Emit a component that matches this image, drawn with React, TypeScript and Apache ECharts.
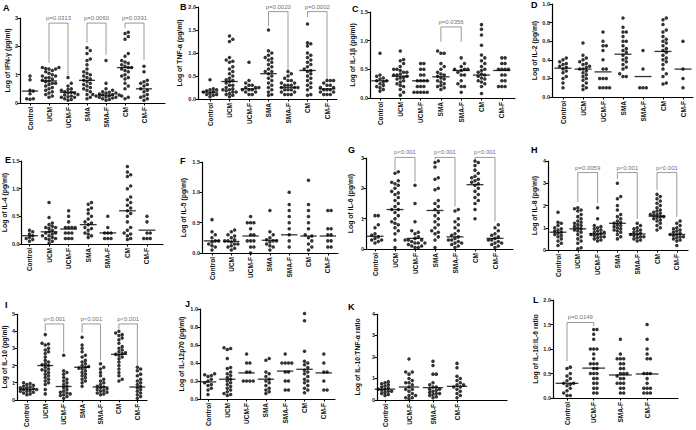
import React, { useEffect, useRef } from "react";
import * as echarts from "echarts";

const FONT = "Liberation Sans, Arial, sans-serif";

const CATS7 = ["Control", "UCM", "UCM-F", "SMA", "SMA-F", "CM", "CM-F"];
const CATS4 = ["Control", "UCM-F", "SMA-F", "CM-F"];

// A: IFN-γ
const ifnVals = [
  [0.95, 0.82, 0.45, 0.42, 0.33, 0.15, 0.13, 0.15],
  [1.25, 1.25, 1.22, 1.2, 1.2, 1.15, 1.1, 1.05, 1.0, 0.95, 0.95, 0.9, 0.88, 0.85, 0.8, 0.78, 0.75, 0.7, 0.7, 0.65, 0.6, 0.55, 0.5, 0.45, 0.4, 0.35, 0.3, 0.25, 0.2],
  [0.9, 0.7, 0.6, 0.5, 0.48, 0.45, 0.4, 0.38, 0.35, 0.3, 0.28, 0.25, 0.2, 0.2, 0.15, 0.12, 0.1, 0.35, 0.22],
  [1.95, 1.85, 1.75, 1.55, 1.5, 1.35, 1.2, 1.1, 1.05, 1.0, 0.95, 0.9, 0.85, 0.8, 0.75, 0.7, 0.65, 0.6, 0.55, 0.5, 0.45, 0.4, 0.3, 0.2, 0.15],
  [1.5, 0.7, 0.5, 0.45, 0.4, 0.38, 0.35, 0.35, 0.32, 0.3, 0.3, 0.28, 0.28, 0.25, 0.25, 0.22, 0.2, 0.2, 0.18, 0.15, 0.12, 0.1],
  [2.5, 2.45, 2.35, 2.25, 1.75, 1.65, 1.5, 1.45, 1.4, 1.35, 1.3, 1.25, 1.25, 1.2, 1.15, 1.1, 1.0, 0.95, 0.9, 0.85, 0.7, 0.6, 0.5, 0.25, 0.2, 0.15],
  [1.3, 1.1, 0.8, 0.75, 0.7, 0.65, 0.6, 0.5, 0.45, 0.4, 0.3, 0.25, 0.2, 0.15, 0.1],
];
const ifnMed = [0.42, 0.78, 0.38, 0.8, 0.28, 1.25, 0.5];
const ifnBrk = [
  [1, 2, 1.42, 0.98, 2.82, "p=0.0313"],
  [3, 4, 2.13, 1.7, 2.82, "p=0.0060"],
  [5, 6, 2.65, 1.52, 2.82, "p=0.0391"],
];

// B: TNF-α
const tnfVals = [
  [0.42, 0.22, 0.2, 0.18, 0.15, 0.15, 0.12, 0.1, 0.08, 0.05, 0.2, 0.1],
  [1.37, 1.3, 1.25, 0.9, 0.85, 0.82, 0.8, 0.7, 0.65, 0.6, 0.55, 0.5, 0.45, 0.42, 0.4, 0.38, 0.35, 0.3, 0.3, 0.25, 0.22, 0.2, 0.18, 0.15, 0.12, 0.1, 0.08, 0.05, 0.2, 0.15],
  [0.8, 0.4, 0.35, 0.3, 0.3, 0.25, 0.25, 0.2, 0.2, 0.2, 0.15, 0.15, 0.1, 0.1, 0.25],
  [1.5, 1.05, 1.0, 0.95, 0.9, 0.88, 0.85, 0.8, 0.75, 0.7, 0.65, 0.6, 0.55, 0.5, 0.45, 0.4, 0.35, 0.3, 0.25, 0.2, 0.15, 0.1, 0.08, 0.6],
  [0.6, 0.55, 0.5, 0.45, 0.4, 0.4, 0.35, 0.35, 0.3, 0.3, 0.3, 0.25, 0.25, 0.25, 0.2, 0.2, 0.2, 0.15, 0.15, 0.1, 0.1, 0.1],
  [1.63, 1.22, 1.2, 1.15, 1.0, 0.95, 0.9, 0.85, 0.8, 0.75, 0.7, 0.65, 0.62, 0.6, 0.55, 0.5, 0.45, 0.4, 0.35, 0.3, 0.25, 0.2, 0.1, 0.08],
  [0.4, 0.4, 0.4, 0.35, 0.3, 0.3, 0.25, 0.25, 0.2, 0.2, 0.2, 0.15, 0.15, 0.1, 0.1, 0.1],
];
const tnfMed = [0.15, 0.38, 0.22, 0.55, 0.25, 0.62, 0.22];
const tnfBrk = [
  [3, 4, 1.58, 0.63, 1.9, "p=0.0020"],
  [5, 6, 1.78, 0.41, 1.9, "p=0.0002"],
];

// C: IL-1β
const il1Vals = [
  [0.78, 0.4, 0.38, 0.35, 0.33, 0.3, 0.3, 0.28, 0.25, 0.22, 0.2, 0.18, 0.15, 0.12],
  [0.82, 0.67, 0.65, 0.6, 0.55, 0.5, 0.5, 0.48, 0.45, 0.42, 0.4, 0.4, 0.38, 0.35, 0.33, 0.3, 0.28, 0.25, 0.22, 0.2, 0.15, 0.1, 0.05, 0.45, 0.36],
  [0.6, 0.6, 0.5, 0.5, 0.4, 0.4, 0.3, 0.3, 0.3, 0.3, 0.2, 0.2, 0.2, 0.1, 0.1, 0.1, 0.1, 0.1],
  [0.82, 0.78, 0.78, 0.6, 0.55, 0.5, 0.45, 0.42, 0.4, 0.38, 0.35, 0.33, 0.3, 0.28, 0.25, 0.22, 0.2, 0.18, 0.15],
  [0.7, 0.6, 0.55, 0.5, 0.5, 0.5, 0.48, 0.45, 0.4, 0.4, 0.3, 0.25, 0.2, 0.2, 0.1],
  [1.28, 1.2, 1.1, 0.92, 0.75, 0.7, 0.65, 0.6, 0.55, 0.5, 0.48, 0.45, 0.42, 0.4, 0.38, 0.35, 0.33, 0.3, 0.28, 0.25, 0.2, 0.08],
  [0.7, 0.7, 0.6, 0.6, 0.5, 0.5, 0.5, 0.5, 0.4, 0.4, 0.3, 0.3, 0.2, 0.2, 0.2],
];
const il1Med = [0.3, 0.38, 0.3, 0.37, 0.48, 0.4, 0.48];
const il1Brk = [[3, 4, 0.98, 0.98, 1.24, "p=0.0356"]];

// D: IL-2
const il2Vals = [
  [0.42, 0.4, 0.38, 0.36, 0.35, 0.33, 0.32, 0.3, 0.28, 0.26, 0.22, 0.2, 0.15, 0.1],
  [0.58, 0.45, 0.42, 0.4, 0.38, 0.36, 0.35, 0.33, 0.32, 0.3, 0.3, 0.28, 0.26, 0.24, 0.22, 0.2, 0.18, 0.15, 0.12, 0.1, 0.08],
  [0.7, 0.6, 0.55, 0.55, 0.5, 0.4, 0.3, 0.3, 0.2, 0.2, 0.2, 0.1, 0.1, 0.1, 0.1],
  [0.85, 0.75, 0.7, 0.7, 0.65, 0.6, 0.6, 0.55, 0.52, 0.5, 0.48, 0.45, 0.42, 0.4, 0.38, 0.35, 0.32, 0.3, 0.25, 0.22, 0.22],
  [0.5, 0.3, 0.1, 0.1, 0.1],
  [0.85, 0.83, 0.78, 0.72, 0.7, 0.65, 0.62, 0.6, 0.58, 0.55, 0.52, 0.5, 0.48, 0.45, 0.42, 0.4, 0.38, 0.35, 0.3, 0.25, 0.22, 0.15, 0.14],
  [0.6, 0.3, 0.2, 0.1],
];
const il2Med = [0.31, 0.3, 0.27, 0.46, 0.22, 0.49, 0.3];

// E: IL-4
const il4Vals = [
  [0.25, 0.22, 0.18, 0.15, 0.12, 0.1, 0.08, 0.05],
  [0.75, 0.48, 0.38, 0.35, 0.32, 0.3, 0.28, 0.25, 0.22, 0.2, 0.18, 0.15, 0.12, 0.1, 0.08, 0.05, 0.02, 0.3, 0.2, 0.15, 0.1],
  [0.6, 0.5, 0.4, 0.3, 0.3, 0.3, 0.3, 0.2, 0.2, 0.2, 0.1, 0.1, 0.1],
  [0.75, 0.72, 0.65, 0.62, 0.55, 0.5, 0.45, 0.4, 0.38, 0.35, 0.3, 0.28, 0.25, 0.2, 0.18, 0.15, 0.12],
  [0.5, 0.3, 0.2, 0.2, 0.2, 0.1, 0.1, 0.1],
  [1.4, 1.3, 1.25, 1.22, 1.05, 1.0, 0.85, 0.8, 0.75, 0.7, 0.65, 0.6, 0.55, 0.5, 0.4, 0.3, 0.25, 0.2, 0.18, 0.15, 0.1, 0.08],
  [0.5, 0.4, 0.2, 0.2, 0.1, 0.1, 0.1],
];
const il4Med = [0.15, 0.22, 0.27, 0.35, 0.2, 0.6, 0.25];

// F: IL-5
const il5Vals = [
  [0.55, 0.35, 0.3, 0.25, 0.2, 0.2, 0.18, 0.15, 0.12, 0.1, 0.05],
  [0.38, 0.35, 0.3, 0.28, 0.25, 0.22, 0.2, 0.2, 0.18, 0.15, 0.15, 0.12, 0.1, 0.08, 0.05],
  [0.6, 0.5, 0.5, 0.5, 0.4, 0.3, 0.3, 0.2, 0.2, 0.2, 0.1, 0.1, 0.0],
  [0.7, 0.35, 0.3, 0.25, 0.22, 0.2, 0.2, 0.18, 0.15, 0.12, 0.1, 0.05],
  [1.0, 0.8, 0.7, 0.6, 0.5, 0.4, 0.3, 0.2, 0.1],
  [1.2, 0.8, 0.7, 0.6, 0.5, 0.4, 0.3, 0.28, 0.25, 0.2, 0.15, 0.1, 0.05],
  [0.7, 0.7, 0.4, 0.4, 0.3, 0.3, 0.2, 0.2, 0.1, 0.1],
];
const il5Med = [0.2, 0.19, 0.28, 0.21, 0.3, 0.28, 0.28];

// G: IL-6
const il6Vals = [
  [1.1, 1.1, 0.8, 0.7, 0.5, 0.45, 0.4, 0.35, 0.3, 0.3, 0.25, 0.2],
  [2.55, 2.5, 2.25, 2.2, 2.15, 2.1, 2.0, 1.9, 1.8, 1.7, 1.6, 1.5, 1.4, 1.3, 1.2, 1.1, 1.0, 0.9, 0.8, 0.7, 0.6, 0.5, 0.3, 0.05, 1.85, 1.3, 0.85],
  [2.1, 1.5, 0.9, 0.6, 0.55, 0.5, 0.4, 0.35, 0.3, 0.3, 0.25, 0.2, 0.2, 0.15, 0.1, 0.1, 0.05, 0.05, 0.2, 0.3],
  [2.9, 2.85, 2.7, 2.35, 2.3, 2.0, 1.95, 1.6, 1.5, 1.4, 1.3, 1.2, 1.1, 1.0, 0.9, 0.8, 0.7, 0.6, 0.55, 0.5, 0.4, 0.3, 0.05],
  [1.3, 1.25, 1.0, 0.9, 0.8, 0.7, 0.6, 0.5, 0.45, 0.4, 0.35, 0.3, 0.25, 0.2, 0.15, 0.1, 0.05, 0.3, 0.2],
  [2.9, 2.85, 2.75, 2.6, 2.5, 2.4, 2.35, 2.3, 2.25, 2.2, 2.15, 2.1, 2.0, 1.9, 1.8, 1.7, 1.6, 1.5, 1.3, 1.0],
  [0.8, 0.7, 0.6, 0.5, 0.45, 0.4, 0.35, 0.3, 0.25, 0.2, 0.15, 0.1, 0.05, 0.3, 0.2],
];
const il6Med = [0.42, 1.3, 0.35, 1.27, 0.4, 2.12, 0.35];
const il6Brk = [
  [1, 2, 2.6, 2.22, 3.02, "p<0.001"],
  [3, 4, 2.96, 1.4, 3.02, "p<0.001"],
  [5, 6, 2.94, 0.9, 3.02, "p<0.001"],
];

// H: IL-8
const il8Vals = [
  [1.7, 1.25, 1.2, 1.1, 1.0, 0.95, 0.9, 0.85, 0.8, 0.75, 0.7, 0.65, 0.6, 0.5, 0.4, 0.3, 0.2],
  [1.9, 1.85, 1.8, 1.75, 1.6, 1.5, 1.4, 1.3, 1.2, 1.1, 1.05, 1.0, 0.95, 0.9, 0.85, 0.8, 0.7, 0.6, 0.5, 0.4, 0.3, 0.1, 0.05, 1.25, 1.15],
  [1.9, 1.4, 1.1, 1.05, 1.0, 0.95, 0.9, 0.85, 0.8, 0.75, 0.7, 0.65, 0.6, 0.55, 0.5, 0.45, 0.4, 0.7, 0.8, 0.6],
  [3.0, 2.4, 2.3, 2.0, 1.8, 1.6, 1.5, 1.4, 1.3, 1.25, 1.2, 1.15, 1.1, 1.05, 1.0, 0.95, 0.9, 0.85, 0.8, 0.7, 0.6, 0.5],
  [1.2, 1.1, 1.0, 0.95, 0.9, 0.85, 0.8, 0.75, 0.7, 0.65, 0.6, 0.55, 0.5, 0.45, 0.4, 0.7, 0.6],
  [2.5, 2.4, 2.3, 2.2, 2.1, 2.0, 1.9, 1.8, 1.75, 1.7, 1.65, 1.6, 1.55, 1.5, 1.45, 1.4, 1.35, 1.3, 1.2, 1.1, 1.0, 0.9, 1.5, 1.6],
  [1.3, 1.2, 1.1, 1.0, 0.95, 0.9, 0.85, 0.8, 0.75, 0.7, 0.65, 0.6, 0.55, 0.5, 0.45, 0.4, 0.2, 0.7, 0.6],
];
const il8Med = [0.8, 0.95, 0.72, 1.2, 0.72, 1.52, 0.7];
const il8Brk = [
  [1, 2, 2.16, 2.1, 3.48, "p=0.0059"],
  [3, 4, 3.2, 1.4, 3.48, "p<0.001"],
  [5, 6, 2.7, 1.5, 3.48, "p<0.001"],
];

// I: IL-10
const il10Vals = [
  [1.0, 0.95, 0.9, 0.85, 0.8, 0.75, 0.7, 0.65, 0.6, 0.55, 0.5, 0.45, 0.4, 0.35, 0.3, 0.7, 0.6, 0.5],
  [3.8, 3.3, 3.25, 3.2, 3.0, 2.9, 2.8, 2.7, 2.5, 2.3, 2.2, 2.1, 2.0, 1.9, 1.8, 1.7, 1.6, 1.5, 1.4, 1.3, 1.2, 1.1, 1.0, 0.9, 0.6, 0.35, 2.05, 1.75],
  [2.6, 1.7, 1.6, 1.5, 1.3, 1.2, 1.1, 1.0, 0.9, 0.8, 0.7, 0.6, 0.5, 0.45, 0.4, 0.35, 0.3, 0.25, 0.2, 0.1],
  [3.65, 3.2, 3.0, 2.8, 2.6, 2.5, 2.3, 2.2, 2.1, 2.0, 1.95, 1.9, 1.85, 1.8, 1.7, 1.6, 1.5, 1.4, 1.3, 1.2, 1.1, 1.0, 0.8],
  [2.1, 1.9, 1.8, 1.6, 1.4, 1.2, 1.1, 1.0, 0.9, 0.8, 0.75, 0.7, 0.65, 0.6, 0.55, 0.5, 0.45, 0.4, 0.35, 0.3],
  [4.0, 3.9, 3.8, 3.75, 3.6, 3.5, 3.3, 3.1, 3.0, 2.9, 2.8, 2.7, 2.65, 2.6, 2.5, 2.4, 2.2, 2.0, 1.8, 1.6, 1.4, 1.2, 1.1, 2.75],
  [1.9, 1.8, 1.7, 1.5, 1.4, 1.2, 1.1, 1.0, 0.9, 0.8, 0.7, 0.6, 0.5, 0.4, 0.3, 0.2, 0.1],
];
const il10Med = [0.62, 2.0, 0.78, 1.9, 0.75, 2.65, 0.75];
const il10Brk = [
  [1, 2, 4.0, 2.77, 4.42, "p<0.001"],
  [3, 4, 3.9, 2.3, 4.42, "p<0.001"],
  [5, 6, 4.15, 2.0, 4.42, "p<0.001"],
];

// J: IL-12p70
const il12Vals = [
  [0.28, 0.27, 0.26, 0.25, 0.22, 0.2, 0.18, 0.16, 0.15, 0.12, 0.1, 0.05],
  [0.57, 0.55, 0.56, 0.45, 0.35, 0.34, 0.3, 0.28, 0.26, 0.24, 0.22, 0.2, 0.18, 0.16, 0.14, 0.12, 0.1, 0.08, 0.06, 0.05, 0.04],
  [0.5, 0.4, 0.4, 0.3, 0.3, 0.2, 0.2, 0.2, 0.2],
  [0.45, 0.43, 0.3, 0.28, 0.25, 0.22, 0.2, 0.18, 0.15, 0.12, 0.1, 0.08, 0.06],
  [0.5, 0.4, 0.4, 0.4, 0.4, 0.3, 0.3, 0.2, 0.2, 0.1, 0.1],
  [0.95, 0.87, 0.53, 0.42, 0.4, 0.38, 0.35, 0.32, 0.3, 0.28, 0.25, 0.22, 0.2, 0.18, 0.15, 0.12, 0.1, 0.07],
  [0.5, 0.4, 0.3, 0.3, 0.2, 0.1, 0.1],
];
const il12Med = [0.19, 0.22, 0.29, 0.22, 0.31, 0.33, 0.29];

// K: IL-10:TNF-α ratio
const ratioTnfVals = [
  [0.85, 0.8, 0.75, 0.7, 0.65, 0.6, 0.55, 0.5, 0.45, 0.4, 0.35, 0.3, 0.25, 0.2, 0.5, 0.4],
  [1.9, 1.3, 1.3, 1.2, 1.0, 0.9, 0.8, 0.7, 0.6, 0.5, 0.4, 0.3, 0.2, 0.1, 0.1, 0.05, 0.2, 0.8, 0.5],
  [1.8, 1.6, 1.2, 1.2, 0.8, 0.7, 0.6, 0.5, 0.45, 0.4, 0.35, 0.3, 0.25, 0.2, 0.15, 0.1, 0.6, 0.5, 0.3],
  [1.7, 1.5, 1.1, 1.0, 0.9, 0.8, 0.7, 0.6, 0.5, 0.4, 0.3, 0.2, 0.1, 0.7, 0.6],
];
const ratioTnfMed = [0.5, 0.6, 0.57, 0.63];

// L: IL-10:IL-6 ratio
const ratioIl6Vals = [
  [0.63, 0.6, 0.5, 0.45, 0.4, 0.35, 0.3, 0.3, 0.28, 0.25, 0.2, 0.15, 0.1, 0.05, 0.05],
  [1.4, 1.4, 1.3, 1.2, 1.0, 1.0, 1.0, 0.9, 0.8, 0.7, 0.7, 0.6, 0.6, 0.5, 0.5, 0.4, 0.4, 0.3, 0.3, 0.2, 0.2, 0.1, 0.1, 0.7, 0.5],
  [1.2, 0.9, 0.8, 0.8, 0.8, 0.7, 0.7, 0.6, 0.6, 0.5, 0.5, 0.5, 0.45, 0.4, 0.4, 0.3, 0.3, 0.3, 0.2, 0.2, 0.1, 0.1],
  [1.5, 1.2, 1.0, 0.9, 0.8, 0.8, 0.5, 0.5, 0.5, 0.4, 0.3, 0.2, 0.2, 0.2, 0.1, 0.1, 0.1],
];
const ratioIl6Med = [0.3, 0.61, 0.47, 0.49];
const ratioIl6Brk = [[0, 1, 0.75, 1.47, 1.54, "p=0.0149"]];

type Panel = {
  letter: string; title: string; cats: string[]; vals: number[][]; med: number[]; brk: any[];
  ymax: number; step: number; axisX: number; c0: number; sp: number; end: number; top: number; bot: number;
  lx: number; ly: number; ng: number;
};

const panels: Panel[] = [
  { letter: "A", title: "Log of IFN-γ (pg/ml)", cats: CATS7, vals: ifnVals, med: ifnMed, brk: ifnBrk, ymax: 3, step: 1, axisX: 20, c0: 30, sp: 19, end: 165, top: 18, bot: 103, lx: 3, ly: 3, ng: 12 },
  { letter: "B", title: "Log of TNF-α (pg/ml)", cats: CATS7, vals: tnfVals, med: tnfMed, brk: tnfBrk, ymax: 2, step: 0.5, axisX: 198, c0: 210, sp: 19.5, end: 337, top: 7, bot: 99, lx: 180, ly: 2, ng: 18 },
  { letter: "C", title: "Log of IL-1β (pg/ml)", cats: CATS7, vals: il1Vals, med: il1Med, brk: il1Brk, ymax: 1.5, step: 0.5, axisX: 370, c0: 380, sp: 20.3, end: 515, top: 12, bot: 98, lx: 352, ly: 4, ng: 15 },
  { letter: "D", title: "Log of IL-2 (pg/ml)", cats: CATS7, vals: il2Vals, med: il2Med, brk: [], ymax: 1, step: 0.2, axisX: 552, c0: 563, sp: 20, end: 693, top: 4, bot: 97, lx: 531, ly: 0, ng: 15 },
  { letter: "E", title: "Log of IL-4 (pg/ml)", cats: CATS7, vals: il4Vals, med: il4Med, brk: [], ymax: 1.5, step: 0.5, axisX: 20, c0: 28, sp: 19.8, end: 163, top: 161, bot: 244, lx: 5, ly: 155, ng: 13 },
  { letter: "F", title: "Log of IL-5 (pg/ml)", cats: CATS7, vals: il5Vals, med: il5Med, brk: [], ymax: 1.5, step: 0.5, axisX: 202, c0: 212, sp: 19.3, end: 338, top: 162, bot: 253, lx: 180, ly: 156, ng: 18 },
  { letter: "G", title: "Log of IL-6 (pg/ml)", cats: CATS7, vals: il6Vals, med: il6Med, brk: il6Brk, ymax: 3, step: 1, axisX: 366, c0: 375, sp: 20, end: 513, top: 158, bot: 249, lx: 348, ly: 145, ng: 15 },
  { letter: "H", title: "Log of IL-8 (pg/ml)", cats: CATS7, vals: il8Vals, med: il8Med, brk: il8Brk, ymax: 4, step: 1, axisX: 548, c0: 558, sp: 19.8, end: 688, top: 161, bot: 250, lx: 531, ly: 145, ng: 13 },
  { letter: "I", title: "Log of IL-10 (pg/ml)", cats: CATS7, vals: il10Vals, med: il10Med, brk: il10Brk, ymax: 5, step: 1, axisX: 15, c0: 25, sp: 18.7, end: 147, top: 314, bot: 402, lx: 5, ly: 300, ng: 12 },
  { letter: "J", title: "Log of IL-12p70 (pg/ml)", cats: CATS7, vals: il12Vals, med: il12Med, brk: [], ymax: 1, step: 0.2, axisX: 200, c0: 208, sp: 19.3, end: 335, top: 309, bot: 399, lx: 185, ly: 299, ng: 18 },
  { letter: "K", title: "Log of IL-10:TNF-α ratio", cats: CATS4, vals: ratioTnfVals, med: ratioTnfMed, brk: [], ymax: 4, step: 1, axisX: 377, c0: 385, sp: 24, end: 507, top: 314, bot: 402, lx: 348, ly: 302, ng: 19 },
  { letter: "L", title: "Log of IL-10:IL-6 ratio", cats: CATS4, vals: ratioIl6Vals, med: ratioIl6Med, brk: ratioIl6Brk, ymax: 2, step: 0.5, axisX: 553, c0: 567, sp: 26.7, end: 678, top: 300, bot: 398, lx: 533, ly: 295, ng: 16 },
];

// beeswarm layout: places each value at the nearest free horizontal slot around its category
function swarm(vals: number[], ci: number, pxX: number, pxY: number, D: number) {
  const sorted = [...vals].sort((a, b) => a - b);
  const placed: [number, number][] = [];
  const out: number[][] = [];
  for (const v of sorted) {
    const y = v * pxY;
    for (let i = 0; i < 400; i++) {
      const off = i === 0 ? 0 : (i % 2 === 1 ? 1 : -1) * Math.ceil(i / 2) * D;
      const ok = placed.every((p) => (p[0] - off) ** 2 + (p[1] - y) ** 2 >= D * D * 0.92);
      if (ok) {
        placed.push([off, y]);
        out.push([ci + off / pxX, v]);
        break;
      }
    }
  }
  return out;
}

function buildOption() {
  const grid: any[] = [], xAxis: any[] = [], yAxis: any[] = [], series: any[] = [], graphic: any[] = [];
  panels.forEach((p, i) => {
    const w = p.end - p.axisX, h = p.bot - p.top;
    grid.push({ left: p.axisX, top: p.top, width: w, height: h, containLabel: false });
    const idx = p.cats.map((_, k) => k);
    const dec = p.step < 1 ? 1 : 0;
    xAxis.push({
      type: "value", gridIndex: i, min: (p.axisX - p.c0) / p.sp, max: (p.end - p.c0) / p.sp,
      splitLine: { show: false },
      axisLine: { onZero: false, lineStyle: { color: "#000", width: 1.2 } },
      axisTick: { customValues: idx, length: 2.5, lineStyle: { color: "#000", width: 1 } },
      axisLabel: {
        customValues: idx, rotate: 90, margin: 4, fontSize: 6.5, fontWeight: "bold", color: "#111", fontFamily: FONT,
        formatter: (v: number) => p.cats[Math.round(v)] ?? "",
      },
    });
    yAxis.push({
      type: "value", gridIndex: i, min: 0, max: p.ymax, interval: p.step,
      splitLine: { show: false },
      axisLine: { show: true, onZero: false, lineStyle: { color: "#000", width: 1.2 } },
      axisTick: { show: true, length: 2.5, lineStyle: { color: "#000", width: 1 } },
      axisLabel: { fontSize: 5.5, fontWeight: "bold", color: "#222", margin: 2, fontFamily: FONT, formatter: (v: number) => v.toFixed(dec) },
      name: p.title, nameLocation: "middle", nameGap: p.ng - 3,
      nameTextStyle: { fontSize: 6.8, fontWeight: "bold", color: "#111", fontFamily: FONT },
    });
    const pxY = h / p.ymax;
    const pts: number[][] = [];
    p.vals.forEach((vs, ci) => pts.push(...swarm(vs, ci, p.sp, pxY, 3.3)));
    series.push({
      type: "scatter", xAxisIndex: i, yAxisIndex: i, data: pts, symbolSize: 3.5, silent: true,
      itemStyle: { color: "#000" }, clip: false, z: 2,
    });
    series.push({
      type: "scatter", xAxisIndex: i, yAxisIndex: i, data: p.med.map((m, ci) => [ci, m]),
      symbol: "rect", symbolSize: [p.sp * 0.85, 1.3], silent: true, itemStyle: { color: "#000" }, z: 3,
    });
    p.brk.forEach((b) => {
      const [a, c, ya, yb, top, text] = b;
      series.push({
        type: "line", xAxisIndex: i, yAxisIndex: i, data: [[a, ya], [a, top], [c, top], [c, yb]],
        symbol: "none", silent: true, clip: false, lineStyle: { color: "#808080", width: 0.8 }, z: 1,
      });
      series.push({
        type: "scatter", xAxisIndex: i, yAxisIndex: i, data: [{ value: [(a + c) / 2, top], name: text }],
        symbolSize: 0.1, silent: true, clip: false, itemStyle: { color: "transparent" },
        label: { show: true, position: "top", distance: 2, formatter: "{b}", fontSize: 6, color: "#444", fontFamily: FONT },
      });
    });
    graphic.push({
      type: "text", left: p.lx, top: p.ly,
      style: { text: p.letter, fontSize: 9, fontWeight: "bold", fill: "#000", fontFamily: FONT },
    });
  });
  return { animation: false, backgroundColor: "#fff", grid, xAxis, yAxis, series, graphic };
}

export default function App() {
  const ref = useRef<HTMLDivElement>(null);
  useEffect(() => {
    document.body.style.margin = "0";
    const chart = echarts.init(ref.current!, undefined, { renderer: "svg" });
    chart.setOption(buildOption() as any);
    return () => chart.dispose();
  }, []);
  return <div ref={ref} style={{ width: 696, height: 430 }} />;
}
